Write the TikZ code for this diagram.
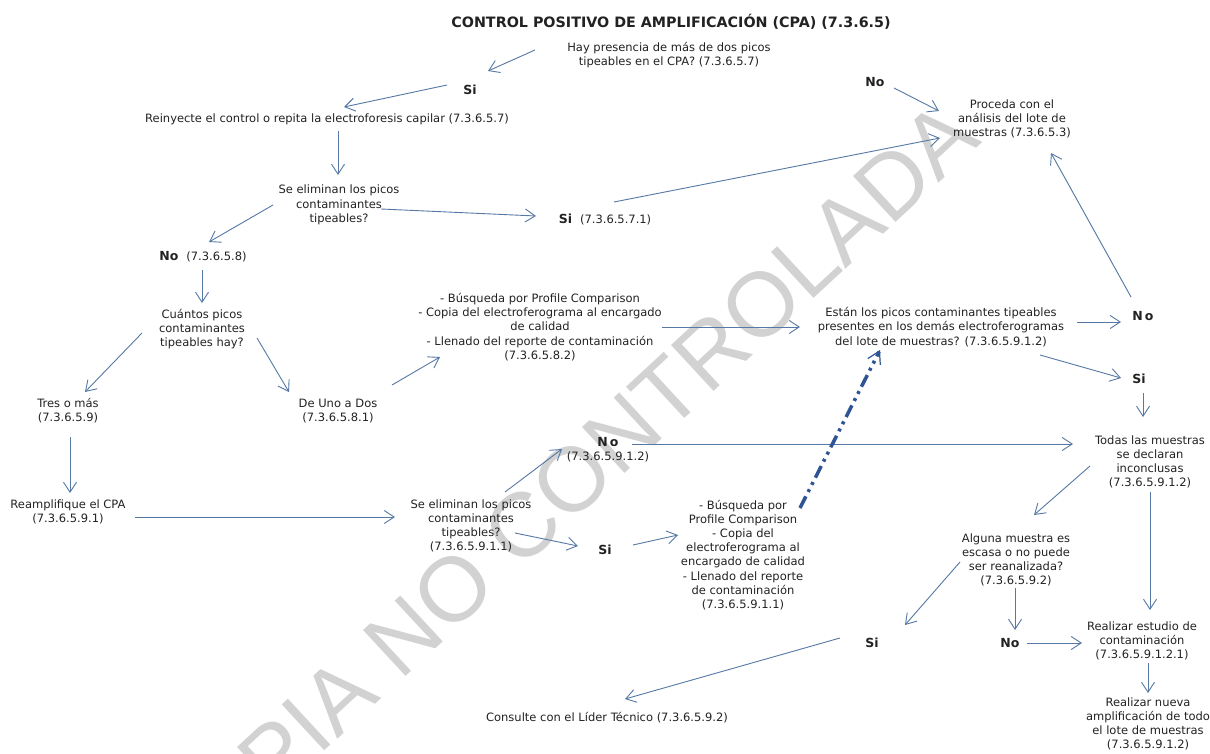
\documentclass[tikz,border=0pt]{standalone}
\usepackage{fontspec}
\setmainfont{DejaVu Sans}
\newfontfamily\wmfont{Liberation Sans}
\usetikzlibrary{arrows.meta,calc}
\definecolor{arrc}{RGB}{85,120,165}
\definecolor{dashc}{RGB}{46,84,150}
\definecolor{txtc}{RGB}{34,34,34}
\definecolor{wmc}{RGB}{210,210,210}
\newcommand{\bl}[1]{{\fontsize{12.5}{14}\selectfont\bfseries #1}}
\tikzset{
  txt/.style={font=\fontsize{11.5}{14.2}\selectfont, text=txtc, align=center, inner sep=1pt},
  lbl/.style={font=\fontsize{12.5}{14}\selectfont\bfseries, text=txtc, inner sep=1pt},
  ttl/.style={font=\fontsize{14.3}{16}\selectfont\bfseries, text=txtc, inner sep=0pt},
  wm/.style={font=\wmfont\fontsize{91}{91}\selectfont, text=wmc, inner sep=0pt},
  arr/.style={draw=arrc, line width=0.9pt, -{Straight Barb[length=10pt,width=13pt]}},
  dasharr/.style={draw=dashc, line width=3.5pt, dash pattern=on 13pt off 5pt on 3pt off 5pt on 3pt off 5pt,
    -{Straight Barb[length=12pt,width=14pt,line width=1.2pt]}},
}
\begin{document}
\begin{tikzpicture}[x=1pt,y=-1pt]
\useasboundingbox (0,0) rectangle (1210,754);
\fill[white] (0,0) rectangle (1210,754);
\clip (0,0) rectangle (1210,754);
% watermark
\node[wm, rotate=42.8, anchor=base west] (wmk) at (174,891) {COPIA NO CONTROLADA};
% nodes
\node[ttl] (title) at (671,22) {CONTROL POSITIVO DE AMPLIFICACIÓN (CPA) (7.3.6.5)};
\node[txt] (q1) at (669,55) {Hay presencia de más de dos picos\\tipeables en el CPA? (7.3.6.5.7)};
\node[lbl] (si1) at (470,90) {Si};
\node[txt] (rein) at (327,119) {Reinyecte el control o repita la electroforesis capilar (7.3.6.5.7)};
\node[txt] (se1) at (339,205) {Se eliminan los picos\\contaminantes\\tipeables?};
\node[txt] (si2) at (605,220) {\bl{Si}\hspace{8pt}(7.3.6.5.7.1)};
\node[lbl] (no2) at (875,82) {No};
\node[txt] (proc) at (1012,119) {Proceda con el\\análisis del lote de\\muestras (7.3.6.5.3)};
\node[txt] (no1) at (203,257) {\bl{No}\hspace{8pt}(7.3.6.5.8)};
\node[txt] (cuan) at (202,329) {Cuántos picos\\contaminantes\\tipeables hay?};
\node[txt] (tres) at (68,411) {Tres o más\\(7.3.6.5.9)};
\node[txt] (deuno) at (338,411) {De Uno a Dos\\(7.3.6.5.8.1)};
\node[txt] (busq1) at (540,327) {- Búsqueda por Profile Comparison\\- Copia del electroferograma al encargado\\de calidad\\- Llenado del reporte de contaminación\\(7.3.6.5.8.2)};
\node[txt] (estan) at (941,327) {Están los picos contaminantes tipeables\\presentes en los demás electroferogramas\\del lote de muestras? (7.3.6.5.9.1.2)};
\node[lbl] (no3) at (1143,316) {N\hspace{2pt}o};
\node[lbl] (si3) at (1139,379) {Si};
\node[txt] (todas) at (1150,462) {Todas las muestras\\se declaran\\inconclusas\\(7.3.6.5.9.1.2)};
\node[txt] (reamp) at (68,512) {Reamplifique el CPA\\(7.3.6.5.9.1)};
\node[txt] (se2) at (471,526) {Se eliminan los picos\\contaminantes\\tipeables?\\(7.3.6.5.9.1.1)};
\node[txt] (no4) at (608,450) {\bl{N\hspace{2pt}o}\\(7.3.6.5.9.1.2)};
\node[lbl] (si4) at (605,550) {Si};
\node[txt] (busq2) at (743,555) {- Búsqueda por\\Profile Comparison\\- Copia del\\electroferograma al\\encargado de calidad\\- Llenado del reporte\\de contaminación\\(7.3.6.5.9.1.1)};
\node[txt] (alg) at (1016,560) {Alguna muestra es\\escasa o no puede\\ser reanalizada?\\(7.3.6.5.9.2)};
\node[lbl] (si5) at (872,643) {Si};
\node[lbl] (no5) at (1010,643) {No};
\node[txt] (real1) at (1142,641) {Realizar estudio de\\contaminación\\(7.3.6.5.9.1.2.1)};
\node[txt] (real2) at (1148,724) {Realizar nueva\\amplificación de todo\\el lote de muestras\\(7.3.6.5.9.1.2)};
\node[txt] (cons) at (607,718) {Consulte con el Líder Técnico (7.3.6.5.9.2)};
% connectors
\draw[arr] ($(q1)+(-134,-5)$) -- ($(si1)+(18,-19)$);
\draw[arr] ($(si1)+(-23,-5)$) -- ($(rein)+(17,-12)$);
\draw[arr] ($(rein)+(11,12)$) -- ($(se1)+(-1,-30)$);
\draw[arr] ($(se1)+(-66,0)$) -- ($(no1)+(6,-15)$);
\draw[arr] ($(se1)+(42,4)$) -- ($(si2)+(-69,-4)$);
\draw[arr] ($(si2)+(9,-18)$) -- ($(proc)+(-72,19)$);
\draw[arr] ($(no2)+(19,6)$) -- ($(proc)+(-73,-8)$);
\draw[arr] ($(no3)+(-12,-19)$) -- ($(proc)+(39,34)$);
\draw[arr] ($(no1)+(-1,13)$) -- ($(cuan)+(0,-26)$);
\draw[arr] ($(cuan)+(-60,4)$) -- ($(tres)+(17,-19)$);
\draw[arr] ($(cuan)+(55,9)$) -- ($(deuno)+(-49,-19)$);
\draw[arr] ($(deuno)+(54,-26)$) -- ($(busq1)+(-100,30)$);
\draw[arr] ($(tres)+(2,26)$) -- ($(reamp)+(2,-19)$);
\draw[arr] ($(reamp)+(67,5)$) -- ($(se2)+(-76,-9)$);
\draw[arr] ($(busq1)+(122,0)$) -- ($(estan)+(-141,0)$);
\draw[arr] ($(estan)+(136,-5)$) -- ($(no3)+(-22,6)$);
\draw[arr] ($(estan)+(99,28)$) -- ($(si3)+(-18,-1)$);
\draw[arr] ($(si3)+(4,14)$) -- ($(todas)+(-7,-45)$);
\draw[arr] ($(se2)+(34,-34)$) -- ($(no4)+(-46,-1)$);
\draw[arr] ($(no4)+(24,-6)$) -- ($(todas)+(-77,-18)$);
\draw[arr] ($(se2)+(44,7)$) -- ($(si4)+(-27,-4)$);
\draw[arr] ($(si4)+(28,-5)$) -- ($(busq2)+(-65,-20)$);
\draw[dasharr] ($(busq2)+(57,-47)$) -- ($(estan)+(-61,23)$);
\draw[arr] ($(todas)+(-60,4)$) -- ($(alg)+(18,-45)$);
\draw[arr] ($(alg)+(-56,2)$) -- ($(si5)+(33,-18)$);
\draw[arr] ($(si5)+(-32,-5)$) -- ($(cons)+(18,-19)$);
\draw[arr] ($(alg)+(-1,28)$) -- ($(no5)+(5,-13)$);
\draw[arr] ($(no5)+(17,0)$) -- ($(real1)+(-60,2)$);
\draw[arr] ($(todas)+(0,30)$) -- ($(real1)+(8,-31)$);
\draw[arr] ($(real1)+(6,22)$) -- ($(real2)+(0,-31)$);
\end{tikzpicture}
\end{document}
